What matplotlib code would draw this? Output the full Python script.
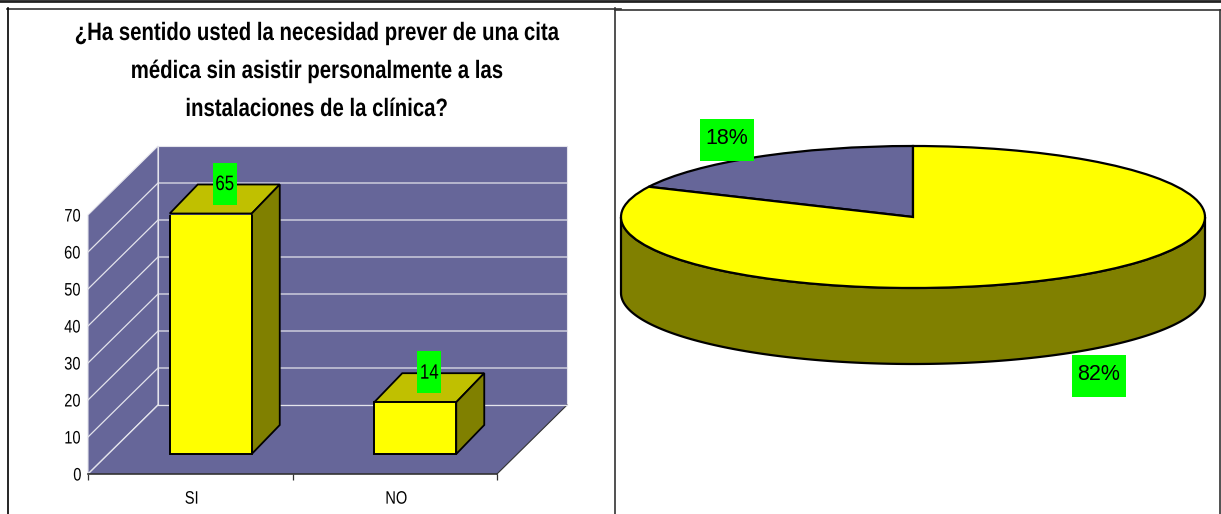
import numpy as np
import matplotlib
matplotlib.use("Agg")
import matplotlib.pyplot as plt
from matplotlib.patches import Polygon, Rectangle
from matplotlib.patheffects import AbstractPathEffect
from matplotlib.transforms import Affine2D

# -----------------------------------------------------------
# Data
# -----------------------------------------------------------
title_lines = [
    "¿Ha sentido usted la necesidad prever de una cita",
    "médica sin asistir personalmente a las",
    "instalaciones de la clínica?",
]
categories = ["SI", "NO"]
counts = [65, 14]
y_ticks = [0, 10, 20, 30, 40, 50, 60, 70]
pie_labels = ["18%", "82%"]
pie_shares = [18, 82]

WALL = "#666699"
YELLOW = "#FFFF00"
TOP = "#C0C000"
SIDE = "#808000"
GREEN = "#00FF00"
GRID = "#E4E4EC"
LINE = "#333333"
FONT = ["Liberation Sans"]

W, H = 1221, 514
fig = plt.figure(figsize=(W / 100, H / 100), dpi=100)


# the reference text is horizontally squeezed and no narrow font is installed
class Squeeze(AbstractPathEffect):
    def __init__(self, k):
        super().__init__()
        self.k = k

    def draw_path(self, renderer, gc, tpath, affine, rgbFace=None):
        box = tpath.get_extents(affine)
        cx = (box.x0 + box.x1) / 2
        squeezed = affine + Affine2D().translate(-cx, 0).scale(self.k, 1).translate(cx, 0)
        renderer.draw_path(gc, tpath, squeezed, rgbFace)


narrow = [Squeeze(0.81)]


def axes_px(left, top, right, bottom):
    return fig.add_axes([left / W, 1 - bottom / H, (right - left) / W, (bottom - top) / H])


# -----------------------------------------------------------
# Table borders (pixel coordinates)
# -----------------------------------------------------------
frame = axes_px(0, 0, W, H)
frame.set_xlim(0, W)
frame.set_ylim(H, 0)
frame.axis("off")
frame.plot([0, W], [1.2, 1.2], color="#222222", lw=2)
frame.plot([7, 621], [8.5, 8.5], color=LINE, lw=1.2)
frame.plot([615, W], [10, 10], color=LINE, lw=1.2)
frame.plot([7.5, 7.5], [8, H], color="black", lw=1.2)
frame.plot([615, 615], [8, H], color=LINE, lw=1.2)
frame.plot([1220, 1220], [10, H], color=LINE, lw=1.2)

for line, y in zip(title_lines, [33, 71, 109]):
    fig.text(316.5 / W, 1 - y / H, line, family=FONT, weight="bold", fontsize=18.1,
             ha="center", va="center", path_effects=narrow)

# -----------------------------------------------------------
# 3D-look bar chart: the axes is the front plane of the box
# -----------------------------------------------------------
ax = axes_px(88, 215, 497, 474)
ax.set_xlim(0, 2)
ax.set_ylim(0, 70)
ax.patch.set_visible(False)
for name in ["top", "right", "left"]:
    ax.spines[name].set_visible(False)
ax.spines["bottom"].set_color(LINE)
ax.spines["bottom"].set_linewidth(1.2)
ax.spines["bottom"].set_zorder(6)

px_x = 2 / 409
px_y = 70 / 259
dx = 70 * px_x
dy = 69 * px_y

ax.add_patch(Polygon([(0, 0), (0, 70), (dx, 70 + dy), (dx, dy)], fc=WALL, ec=GRID, lw=0.8, clip_on=False, zorder=1))
ax.add_patch(Rectangle((dx, dy), 2, 70, fc=WALL, ec=GRID, lw=0.8, clip_on=False, zorder=1))
ax.add_patch(Polygon([(0, 0), (2, 0), (2 + dx, dy), (dx, dy)], fc=WALL, ec="none", clip_on=False, zorder=1))
ax.plot([2, 2 + dx], [0, dy], color=LINE, lw=0.8, clip_on=False, zorder=2)
ax.plot([0, dx], [0, dy], color=GRID, lw=1, clip_on=False, zorder=2)

for v in y_ticks[1:-1]:
    ax.plot([0, dx, 2 + dx], [v, v + dy, v + dy], color=GRID, lw=0.9, clip_on=False, zorder=2)
ax.plot([dx, 2 + dx], [dy, dy], color=GRID, lw=0.9, clip_on=False, zorder=2)

bar_w = 82 * px_x
bar_dx = 28 * px_x
bar_dy = 29 * px_y
lift = 20 * px_y
shift = 20.5 * px_x

for i, v in enumerate(counts):
    x0 = i + 0.5 + shift - bar_w / 2
    x1 = x0 + bar_w
    y0 = lift
    y1 = lift + v
    ax.bar(x0, v, width=bar_w, bottom=y0, align="edge", color=YELLOW, edgecolor="black", linewidth=1.4, zorder=4)
    ax.add_patch(Polygon([(x0, y1), (x1, y1), (x1 + bar_dx, y1 + bar_dy), (x0 + bar_dx, y1 + bar_dy)],
                         fc=TOP, ec="black", lw=1.3, clip_on=False, zorder=3))
    ax.add_patch(Polygon([(x1, y0), (x1, y1), (x1 + bar_dx, y1 + bar_dy), (x1 + bar_dx, y0 + bar_dy)],
                         fc=SIDE, ec="black", lw=1.3, clip_on=False, zorder=3))
    # value label on its green box
    cx = x0 + bar_w / 2 + 14 * px_x
    cy = y1 + 30 * px_y
    ax.add_patch(Rectangle((cx - 12 * px_x, cy - 21 * px_y), 24 * px_x, 42 * px_y, fc=GREEN, ec="none",
                           clip_on=False, zorder=5))
    ax.text(cx, cy - 1 * px_y, str(v), family=FONT, fontsize=15, ha="center", va="center", zorder=6, path_effects=narrow)

ax.set_yticks(y_ticks)
ax.set_yticklabels([str(v) for v in y_ticks], family=FONT, fontsize=13, path_effects=narrow)
ax.tick_params(axis="y", length=0, pad=4)
ax.set_xticks([0, 1, 2])
ax.set_xticklabels([])
ax.tick_params(axis="x", which="major", length=4, width=0.9, color=LINE)
ax.set_xticks([0.5 + 1.5 * px_x, 1.5 + 1.5 * px_x], minor=True)
ax.set_xticklabels(categories, minor=True, family=FONT, fontsize=13, path_effects=narrow)
ax.tick_params(axis="x", which="minor", length=0, pad=12)

# -----------------------------------------------------------
# Tilted pie: unit circle squashed by the axes, thick rim below
# -----------------------------------------------------------
pie_ax = axes_px(621, 146, 1205, 288)
depth = 76 / 71
t = np.linspace(np.pi, 2 * np.pi, 200)
rim_x = np.concatenate([np.cos(t), np.cos(t[::-1])])
rim_y = np.concatenate([np.sin(t), np.sin(t[::-1]) - depth])
pie_ax.fill(rim_x, rim_y, facecolor=SIDE, edgecolor="black", linewidth=1.6, clip_on=False, zorder=1)

wedges, _ = pie_ax.pie(pie_shares, colors=[WALL, YELLOW], startangle=90, radius=1,
                       wedgeprops=dict(edgecolor="black", linewidth=1.6, clip_on=False, zorder=2))
pie_ax.set_aspect("auto")
pie_ax.set_xlim(-1, 1)
pie_ax.set_ylim(-1, 1)

# green label boxes around the pie
label_centres = [(727, 140), (1099, 376)]
for text, (cx, cy) in zip(pie_labels, label_centres):
    frame.add_patch(Rectangle((cx - 27, cy - 21), 54, 42, fc=GREEN, ec="none", zorder=8))
    frame.text(cx, cy - 2, text, family=FONT, fontsize=15.5, ha="center", va="center", zorder=9)
frame.set_zorder(5)

fig.savefig("out.png", dpi=100)
